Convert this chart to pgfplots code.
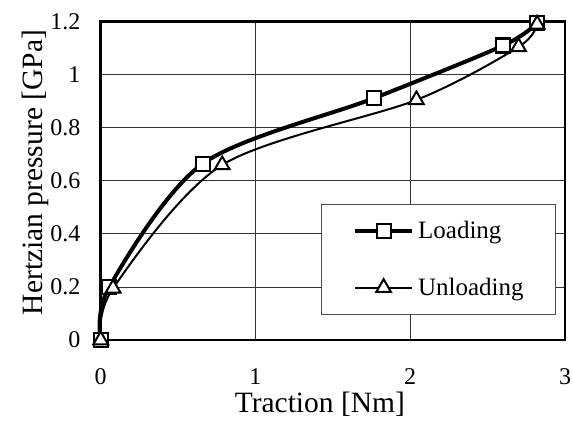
\documentclass[border=0pt]{standalone}
\usepackage{pgfplots}
\pgfplotsset{compat=1.18}
\usepackage{fontspec}
\setmainfont{Liberation Serif}
\usetikzlibrary{calc}
\begin{document}
\begin{tikzpicture}
\begin{axis}[
  width=464.3pt, height=318.3pt, scale only axis,
  xmin=0, xmax=3, ymin=0, ymax=1.2,
  xtick={0,1,2,3}, xticklabels={0,1,2,3},
  ytick={0,0.2,0.4,0.6,0.8,1,1.2}, yticklabels={0,0.2,0.4,0.6,0.8,1,1.2},
  major tick length=0pt,
  grid=major, major grid style={line width=0.9pt, black!80},
  axis line style={line width=2.6pt},
  clip=false,
  tick label style={font=\fontsize{24}{28}\selectfont},
  yticklabel style={inner sep=0pt, anchor=east, xshift=-20pt},
  xticklabel style={inner sep=0pt, anchor=north, yshift=-28pt},
  xlabel={Traction [Nm]}, ylabel={Hertzian pressure [GPa]},
  label style={font=\fontsize{29.5}{33}\selectfont},
  xlabel style={at={(axis description cs:0.472,-0.2293)}, anchor=base},
  ylabel style={at={(axis description cs:-0.1264,0.526)}, anchor=base, rotate=0},
  legend cell align=left,
  legend style={at={(axis description cs:0.4738,0.4273)}, anchor=north west,
    draw=black!70, line width=0.9pt, fill=white,
    inner xsep=32pt, inner ysep=17pt, row sep=38pt, column sep=4pt,
    font=\fontsize{25}{30}\selectfont, nodes={inner sep=0pt}},
  legend image code/.code={\draw[mark repeat=2,mark phase=2,#1] plot coordinates {(0pt,0pt) (28.5pt,0pt) (57pt,0pt)};},
]
\addplot[black, line width=4pt, smooth, mark=square*,
  mark options={solid, fill=white, line width=2.2pt, mark size=7pt}]
  coordinates {(0,0) (0.055,0.2) (0.66,0.665) (1.768,0.912) (2.60,1.11) (2.82,1.195)};
\addlegendentry{Loading}
\addplot[black, line width=2pt, smooth, mark=triangle*,
  mark options={solid, fill=white, line width=2pt, mark size=8.5pt}]
  coordinates {(0,0) (0.08,0.195) (0.785,0.66) (2.04,0.905) (2.70,1.105) (2.82,1.19)};
\addlegendentry{Unloading}
\end{axis}
\pgfresetboundingbox
\path[use as bounding box] ($(current axis.south west)+(-100.7pt,-81pt)$) rectangle ($(current axis.north east)+(8pt,21.7pt)$);
\end{tikzpicture}
\end{document}
